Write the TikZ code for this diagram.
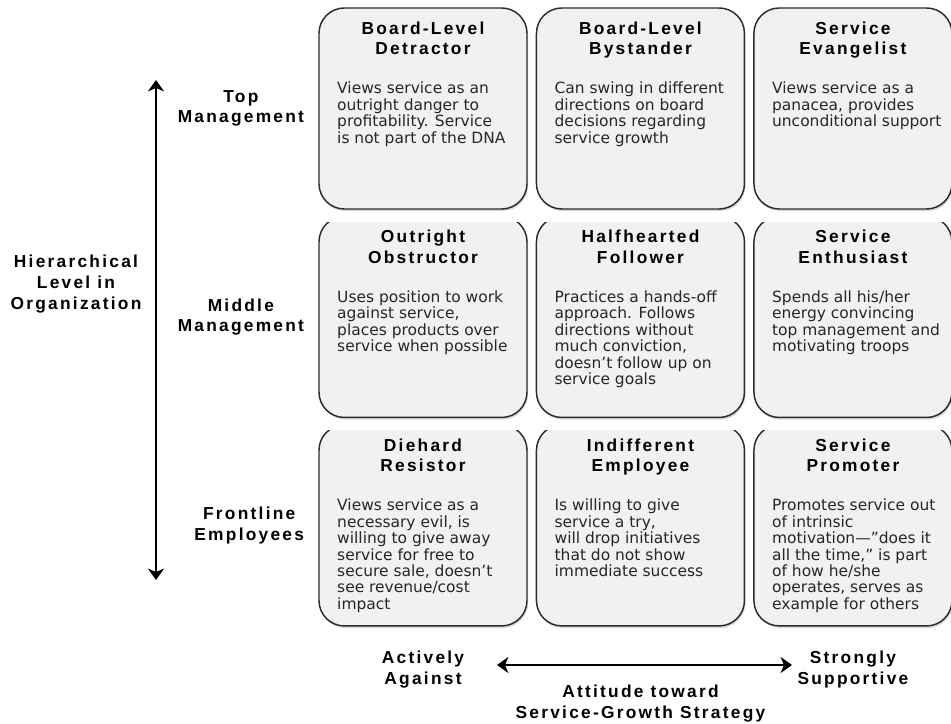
\documentclass[tikz,border=0pt]{standalone}
\usepackage{fontspec}
\setmainfont{DejaVu Sans}
\newfontfamily\headfont{Liberation Sans}[LetterSpace=13]
\usepackage{tikz}
\usetikzlibrary{arrows.meta,positioning,shadows}
\definecolor{cellfill}{HTML}{F1F1F1}
\definecolor{celledge}{HTML}{2B2B2B}
\tikzstyle{cell}=[draw=celledge, fill=cellfill, line width=1.1pt, rounded corners=19pt, minimum width=156pt, minimum height=150.75pt, drop shadow={opacity=0.3, shadow xshift=0.8pt, shadow yshift=-1.6pt}]
\tikzstyle{head}=[font=\headfont\bfseries\fontsize{13}{15.5}\selectfont, align=center, inner sep=0pt, text=black]
\tikzstyle{desc}=[font=\fontsize{11.6}{12.3}\selectfont, align=left, inner sep=0pt, text=black!85]
\tikzstyle{axisarrow}=[<->, line width=2.2pt]

\begin{document}
\begin{tikzpicture}
[x=0.75pt, y=-0.75pt, node distance=6pt, >={Stealth[length=8.5pt,width=12pt,inset=2.5pt]}]
\useasboundingbox (0,0) rectangle (951,724);
% top row
\node[cell] (c11) at (423,108.5) {};
\node[cell, right=6pt of c11] (c12) {};
\node[cell, minimum width=148.5pt, right=6pt of c12] (c13) {};
% middle row, tops hidden
\begin{scope}
\clip (300,222) rectangle (951,421);
\node[cell, below=4.5pt of c11] (c21) {};
\node[cell, right=6pt of c21] (c22) {};
\node[cell, minimum width=148.5pt, right=6pt of c22] (c23) {};
\end{scope}
% bottom row, tops hidden
\begin{scope}
\clip (300,430) rectangle (951,724);
\node[cell, below=4.5pt of c21] (c31) {};
\node[cell, right=6pt of c31] (c32) {};
\node[cell, minimum width=148.5pt, right=6pt of c32] (c33) {};
\end{scope}

\node[head, below=10.5pt of c11.north] (t11) {Board-Level\\Detractor};
\node[head, below=10.5pt of c12.north] (t12) {Board-Level\\Bystander};
\node[head, below=10.5pt of c13.north] (t13) {Service\\Evangelist};
\node[head, below=10.5pt of c21.north] (t21) {Outright\\Obstructor};
\node[head, below=10.5pt of c22.north] (t22) {Halfhearted\\Follower};
\node[head, below=10.5pt of c23.north] (t23) {Service\\Enthusiast};
\node[head, below=10.5pt of c31.north] (t31) {Diehard\\Resistor};
\node[head, below=10.5pt of c32.north] (t32) {Indifferent\\Employee};
\node[head, below=10.5pt of c33.north] (t33) {Service\\Promoter};

\node[desc, below right=56pt and 14pt of c11.north west] (d11) {Views service as an\\outright danger to\\profitability. Service\\is not part of the DNA};
\node[desc, below right=56pt and 14pt of c12.north west] (d12) {Can swing in different\\directions on board\\decisions regarding\\service growth};
\node[desc, below right=56pt and 14pt of c13.north west] (d13) {Views service as a\\panacea, provides\\unconditional support};
\node[desc, below right=56pt and 14pt of c21.north west] (d21) {Uses position to work\\against service,\\places products over\\service when possible};
\node[desc, below right=56pt and 14pt of c22.north west] (d22) {Practices a hands-off\\approach. Follows\\directions without\\much conviction,\\doesn’t follow up on\\service goals};
\node[desc, below right=56pt and 14pt of c23.north west] (d23) {Spends all his/her\\energy convincing\\top management and\\motivating troops};
\node[desc, below right=56pt and 14pt of c31.north west] (d31) {Views service as a\\necessary evil, is\\willing to give away\\service for free to\\secure sale, doesn’t\\see revenue/cost\\impact};
\node[desc, below right=56pt and 14pt of c32.north west] (d32) {Is willing to give\\service a try,\\will drop initiatives\\that do not show\\immediate success};
\node[desc, below right=56pt and 14pt of c33.north west] (d33) {Promotes service out\\of intrinsic\\motivation—”does it\\all the time,” is part\\of how he/she\\operates, serves as\\example for others};

% levels
\node[head, left=10.5pt of c11] (lvl1) {Top\\Management};
\node[head, left=10.5pt of c21] (lvl2) {Middle\\Management};
\node[head, left=10.5pt of c31] (lvl3) {Frontline\\Employees};
\node[head] (hier) at (76,284) {Hierarchical\\Level in\\Organization};
\coordinate (vup) at (156,80);
\coordinate (vdown) at (156,580);
\draw[axisarrow] (vup) -- (vdown);

% attitude
\node[head, below=18pt of c31] (against) {Actively\\Against};
\node[head, below=18pt of c33] (support) {Strongly\\Supportive};
\node[head, below=43.5pt of c32] (attitude) {Attitude toward\\Service-Growth Strategy};
\coordinate (hleft) at (497,665);
\coordinate (hright) at (792,665);
\draw[axisarrow] (hleft) -- (hright);
\end{tikzpicture}
\end{document}
